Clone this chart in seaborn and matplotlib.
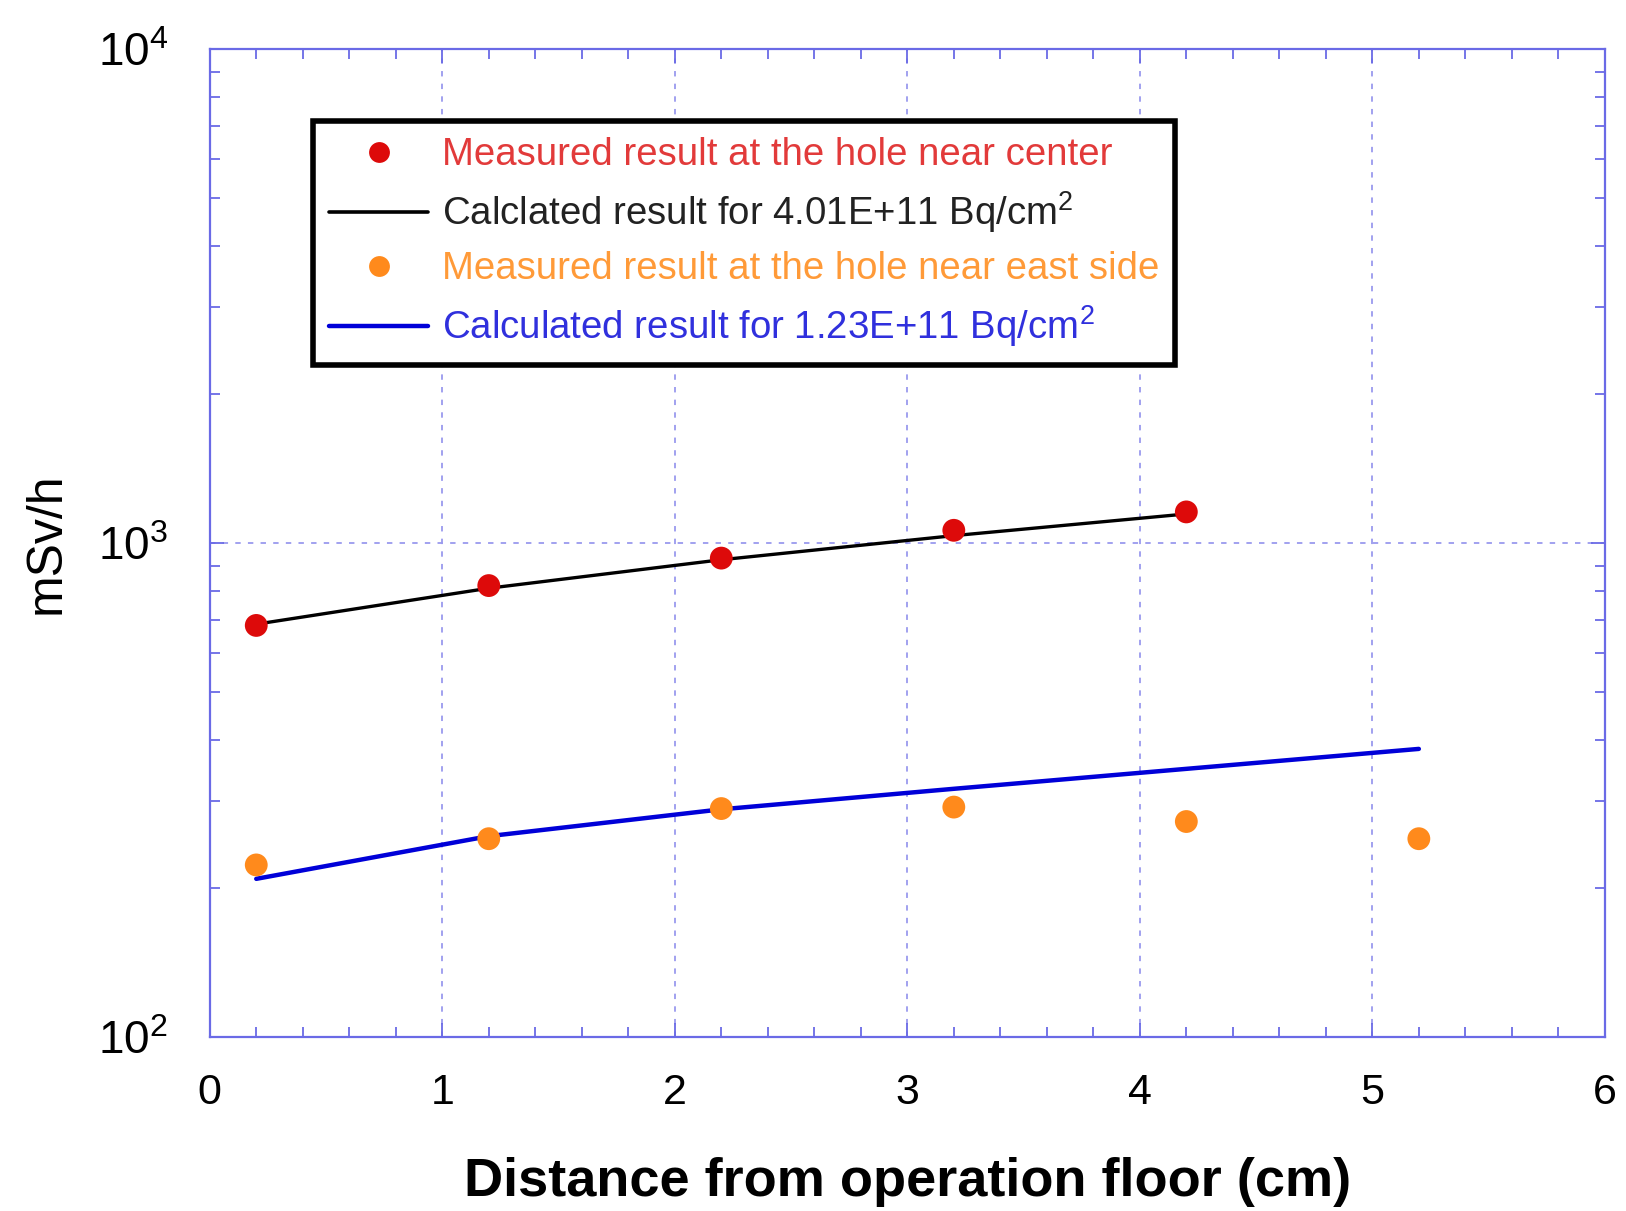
import numpy as np
import pandas as pd
import seaborn as sns
import matplotlib
matplotlib.use('Agg')
import matplotlib.pyplot as plt
from matplotlib.ticker import MultipleLocator, LogLocator, NullFormatter
from matplotlib.lines import Line2D

# data
x_center = [0.2, 1.2, 2.2, 3.2, 4.2]
meas_center = [681, 820, 932, 1061, 1156]
calc_center = [685, 810, 925, 1035, 1145]

x_east = [0.2, 1.2, 2.2, 3.2, 4.2, 5.2]
meas_east = [223, 252, 290, 292, 273, 252]
calc_east = [209, 255, 289, 318, 349, 383]

lab_meas_c = 'Measured result at the hole near center'
lab_calc_c = 'Calclated result for 4.01E+11 Bq/cm$^2$'
lab_meas_e = 'Measured result at the hole near east side'
lab_calc_e = 'Calculated result for 1.23E+11 Bq/cm$^2$'

sns.set_style('ticks')
plt.rcParams['font.family'] = ['Liberation Sans', 'DejaVu Sans']
plt.rcParams['mathtext.fontset'] = 'custom'
plt.rcParams['mathtext.rm'] = 'Liberation Sans'
plt.rcParams['mathtext.it'] = 'Liberation Sans:italic'

red = '#dd0a0a'
orange = '#ff8a1c'
blue = '#0000d8'
spine_c = '#6a6ae6'
grid_c = '#9a9aee'

df_c = pd.DataFrame({'x': x_center, 'meas': meas_center, 'calc': calc_center})
df_e = pd.DataFrame({'x': x_east, 'meas': meas_east, 'calc': calc_east})

fig = plt.figure(figsize=(16.26, 12.11), dpi=100)
ax = fig.add_axes([0.129, 0.1437, 0.858, 0.8158])

sns.lineplot(data=df_c, x='x', y='calc', color='black', lw=2.4, ax=ax, zorder=3)
sns.lineplot(data=df_e, x='x', y='calc', color=blue, lw=3.2, ax=ax, zorder=3)
sns.scatterplot(data=df_c, x='x', y='meas', color=red, s=270, edgecolor='none', ax=ax, zorder=4)
sns.scatterplot(data=df_e, x='x', y='meas', color=orange, s=270, edgecolor='none', ax=ax, zorder=4)

ax.set_yscale('log')
ax.set_xlim(0, 6)
ax.set_ylim(100, 10000)
ax.xaxis.set_major_locator(MultipleLocator(1))
ax.xaxis.set_minor_locator(MultipleLocator(0.2))
ax.yaxis.set_major_locator(LogLocator(base=10))
ax.yaxis.set_minor_locator(LogLocator(base=10, subs=np.arange(2, 10)))
ax.yaxis.set_minor_formatter(NullFormatter())

ax.grid(True, which='major', color=grid_c, ls=(0, (3, 4)), lw=1.3)
for s in ax.spines.values():
    s.set_color(spine_c)
    s.set_linewidth(1.6)
ax.tick_params(which='both', direction='in', top=True, right=True, colors=spine_c,
               labelcolor='black')
ax.tick_params(which='major', length=10, width=1.3, labelsize=31)
ax.tick_params(axis='y', which='major', labelsize=33)
ax.tick_params(which='minor', length=7, width=1.3)
ax.tick_params(axis='x', which='major', pad=26)
ax.tick_params(axis='y', which='major', pad=30)

ax.set_xlabel('Distance from operation floor (cm)', fontsize=39, fontweight='bold',
              va='center', color='black')
ax.set_ylabel('mSv/h', fontsize=36, va='center', color='black')
ax.xaxis.set_label_coords(0.5, -0.147)
ax.yaxis.set_label_coords(-0.117, 0.5)

handles = [
    Line2D([], [], ls='none', marker='o', ms=15, color=red, mec='none'),
    Line2D([], [], color='black', lw=2.6),
    Line2D([], [], ls='none', marker='o', ms=15, color=orange, mec='none'),
    Line2D([], [], color=blue, lw=3.2),
]
leg = ax.legend(handles, [lab_meas_c, lab_calc_c, lab_meas_e, lab_calc_e],
                loc='upper left', bbox_to_anchor=(0.0738, 0.927), borderaxespad=0,
                fontsize=27.6, frameon=True, fancybox=False, framealpha=1,
                handlelength=2.6, handletextpad=0.35, borderpad=0.42, labelspacing=0.42)
leg.get_frame().set_edgecolor('black')
leg.get_frame().set_linewidth(4)
for t, c in zip(leg.get_texts(), ['#e23a3a', '#222222', '#ff9a38', '#3030dd']):
    t.set_color(c)

fig.savefig('out.png', dpi=100)
